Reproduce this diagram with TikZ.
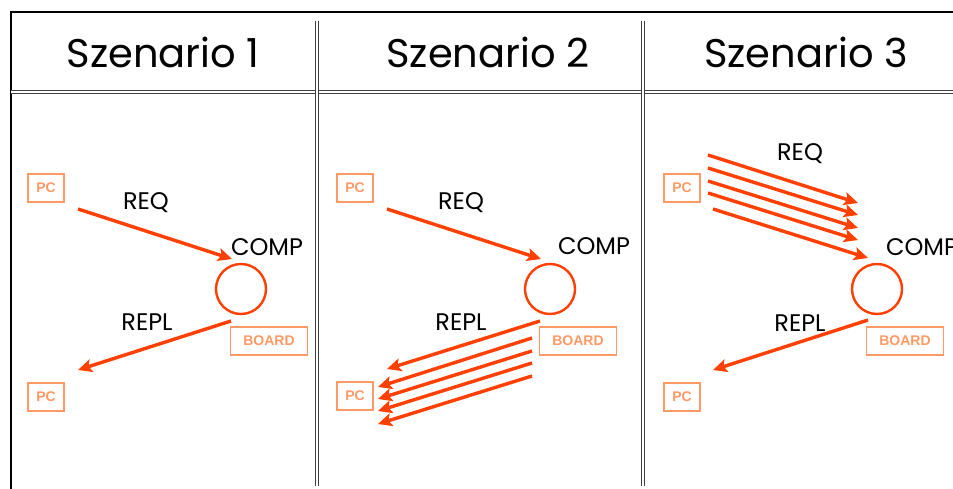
\documentclass[tikz,border=0pt]{standalone}
\usepackage{fontspec}
\setmainfont{Poppins}
\newfontfamily\boxfont{Liberation Sans}[BoldFont={Liberation Sans Bold}]
\usetikzlibrary{arrows.meta}
\definecolor{flow}{HTML}{FF4000}
\definecolor{boxc}{HTML}{FF9966}
\begin{document}
\begin{tikzpicture}[x=1pt,y=-1pt,
  title/.style={font=\fontsize{40}{40}\selectfont},
  lbl/.style={font=\fontsize{24}{24}\selectfont},
  pcbox/.style={draw=boxc, line width=1.6pt, text=boxc,
    font=\boxfont\bfseries\fontsize{14}{14}\selectfont,
    minimum width=36pt, minimum height=28pt, inner sep=0pt},
  boardbox/.style={pcbox, minimum width=77pt},
  comp/.style={circle, draw=flow, line width=2.4pt, minimum size=50pt, inner sep=0pt},
  msg/.style={draw=flow, line width=3.4pt, -{Stealth[length=14pt,width=13pt,inset=3pt]}},
  frame/.style={line width=2pt},
  sep/.style={double=white, double distance=1.6pt, line width=0.8pt, draw=gray!50!black}
]
\useasboundingbox (0,0) rectangle (953,489);

% outer frame and panel separators
\coordinate (tl) at (11,12);
\coordinate (tr) at (953,12);
\coordinate (bl) at (11,489);
\draw[frame] (tr) -- (tl) -- (bl);
\coordinate (hl) at (11,92);
\coordinate (hr) at (953,92);
\draw[sep] (hl) -- (hr);
\coordinate (v1t) at (317,21);
\coordinate (v1b) at (317,486);
\coordinate (v2t) at (643,21);
\coordinate (v2b) at (643,486);
\draw[sep] (v1t) -- (v1b);
\draw[sep] (v2t) -- (v2b);

% titles
\node[title] (t1) at (163,52) {Szenario 1};
\node[title] (t2) at (488,52) {Szenario 2};
\node[title] (t3) at (806,52) {Szenario 3};

% ---- Szenario 1 ----
\node[pcbox] (pc1a) at (46,188) {PC};
\node[pcbox] (pc1b) at (46,397) {PC};
\node[comp] (c1) at (241,289) {};
\node[boardbox] (b1) at (269,341) {BOARD};
\node[lbl] (comp1) at (267,247) {COMP};
\node[lbl] (req1) at (146,203) {REQ};
\node[lbl] (repl1) at (147,322) {REPL};
\coordinate (q1s) at (78,209);
\coordinate (q1e) at (232,259);
\coordinate (r1s) at (231,321);
\coordinate (r1e) at (78,370);
\draw[msg] (q1s) -- (q1e);
\draw[msg] (r1s) -- (r1e);

% ---- Szenario 2 ----
\node[pcbox] (pc2a) at (355,188) {PC};
\node[pcbox] (pc2b) at (355,396) {PC};
\node[comp] (c2) at (550,289) {};
\node[boardbox] (b2) at (578,341) {BOARD};
\node[lbl] (comp2) at (594,246) {COMP};
\node[lbl] (req2) at (461,203) {REQ};
\node[lbl] (repl2) at (461,322) {REPL};
\coordinate (q2s) at (387,209);
\coordinate (q2e) at (541,259);
\draw[msg] (q2s) -- (q2e);
\coordinate (r2as) at (540,321); \coordinate (r2ae) at (387,369);
\coordinate (r2bs) at (532,338); \coordinate (r2be) at (378,387);
\coordinate (r2cs) at (532,351); \coordinate (r2ce) at (378,399);
\coordinate (r2ds) at (532,363); \coordinate (r2de) at (378,411);
\coordinate (r2es) at (532,376); \coordinate (r2ee) at (378,424);
\foreach \k in {a,b,c,d,e}
  \draw[msg] (r2\k s) -- (r2\k e);

% ---- Szenario 3 ----
\node[pcbox] (pc3a) at (682,188) {PC};
\node[pcbox] (pc3b) at (682,397) {PC};
\node[comp] (c3) at (877,289) {};
\node[boardbox] (b3) at (905,341) {BOARD};
\node[lbl] (comp3) at (922,247) {COMP};
\node[lbl] (req3) at (800,154) {REQ};
\node[lbl] (repl3) at (800,323) {REPL};
\coordinate (q3as) at (708,155); \coordinate (q3ae) at (858,203);
\coordinate (q3bs) at (708,168); \coordinate (q3be) at (858,215);
\coordinate (q3cs) at (708,181); \coordinate (q3ce) at (858,228);
\coordinate (q3ds) at (708,193); \coordinate (q3de) at (858,240);
\coordinate (q3es) at (713,209); \coordinate (q3ee) at (868,258);
\foreach \k in {a,b,c,d,e}
  \draw[msg] (q3\k s) -- (q3\k e);
\coordinate (r3s) at (868,320);
\coordinate (r3e) at (713,370);
\draw[msg] (r3s) -- (r3e);
\end{tikzpicture}
\end{document}
